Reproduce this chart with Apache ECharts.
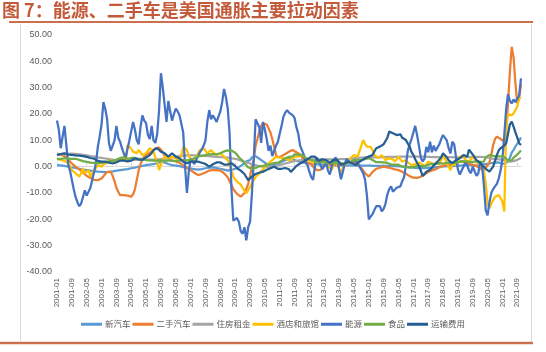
<!DOCTYPE html>
<html>
<head>
<meta charset="utf-8">
<script src="https://cdn.jsdelivr.net/npm/echarts@6/dist/echarts.min.js"></script>
<style>
  html, body { margin: 0; padding: 0; background: #fff; }
  #chart { width: 546px; height: 352px; }
</style>
</head>
<body>
<div id="chart"></div>
<script>
// monthly labels 2001-01 .. 2021-11
const months = [];
for (let y = 2001; y <= 2021; y++) {
  for (let m = 1; m <= 12; m++) {
    if (y === 2021 && m > 11) break;
    months.push(y + '-' + String(m).padStart(2, '0'));
  }
}

const yTicks = [-40, -30, -20, -10, 0, 10, 20, 30, 40, 50];

const seriesNames = ['新汽车', '二手汽车', '住房租金', '酒店和旅馆', '能源', '食品', '运输费用'];

// 同比 %, one row per year
const newCars = [
  0.6, 0.5, 0.5, 0.4, 0.3, 0.2, 0.0, -0.2, -0.3, -0.4, -0.5, -0.6,
  -0.8, -1.0, -1.1, -1.2, -1.3, -1.4, -1.5, -1.6, -1.7, -1.8, -1.9, -1.9,
  -2.0, -2.0, -2.1, -2.0, -2.0, -1.9, -1.8, -1.7, -1.5, -1.4, -1.3, -1.2,
  -1.1, -1.0, -0.9, -0.8, -0.6, -0.5, -0.4, -0.2, 0.0, 0.2, 0.3, 0.5,
  0.6, 0.7, 0.8, 0.9, 1.0, 1.1, 1.3, 1.5, 1.8, 1.9, 1.6, 1.3,
  1.0, 0.8, 0.6, 0.5, 0.4, 0.3, 0.2, 0.0, -0.2, -0.3, -0.5, -0.6,
  -0.7, -0.8, -0.9, -1.0, -1.1, -1.0, -0.9, -0.8, -0.6, -0.5, -0.4, -0.3,
  -0.3, -0.4, -0.5, -0.6, -0.8, -1.0, -1.1, -1.3, -1.5, -1.4, -1.2, -1.0,
  -0.8, -0.5, -0.2, 0.2, 0.8, 1.5, 2.0, 2.3, 2.5, 3.5, 4.0, 4.0,
  3.5, 3.0, 2.5, 2.0, 1.5, 1.0, 0.8, 0.6, 0.6, 0.8, 1.0, 1.2,
  1.5, 1.8, 2.2, 2.5, 2.8, 3.0, 3.0, 2.8, 2.5, 2.2, 2.0, 1.8,
  1.6, 1.5, 1.4, 1.3, 1.2, 1.1, 1.0, 1.0, 1.0, 0.9, 0.8, 0.8,
  0.8, 0.7, 0.7, 0.6, 0.6, 0.6, 0.6, 0.5, 0.5, 0.5, 0.5, 0.5,
  0.5, 0.5, 0.5, 0.5, 0.5, 0.4, 0.4, 0.4, 0.4, 0.4, 0.4, 0.4,
  0.4, 0.4, 0.4, 0.3, 0.3, 0.3, 0.3, 0.3, 0.3, 0.3, 0.3, 0.3,
  0.3, 0.2, 0.2, 0.2, 0.1, 0.1, 0.1, 0.0, 0.0, -0.1, -0.2, -0.3,
  -0.4, -0.5, -0.5, -0.6, -0.6, -0.6, -0.6, -0.5, -0.5, -0.5, -0.4, -0.4,
  -0.3, -0.2, -0.1, 0.0, 0.0, 0.1, 0.1, 0.2, 0.2, 0.2, 0.3, 0.3,
  0.4, 0.4, 0.5, 0.5, 0.6, 0.6, 0.6, 0.6, 0.5, 0.5, 0.5, 0.6,
  0.7, 0.8, 0.9, 1.0, 1.1, 1.2, 1.3, 1.4, 1.5, 1.6, 1.5, 1.4,
  1.2, 1.0, 0.8, 2.0, 3.3, 5.3, 6.4, 7.6, 8.7, 9.8, 11.1
];

const usedCars = [
  5.0, 4.8, 4.6, 4.4, 4.0, 3.5, 2.8, 2.0, 1.2, 0.5, 0.0, -0.5,
  -1.0, -1.5, -2.2, -2.8, -3.5, -4.0, -4.3, -4.6, -5.0, -5.2, -5.1, -5.0,
  -4.5, -3.8, -2.8, -2.0, -1.8, -2.0, -3.5, -5.5, -8.0, -9.5, -10.8, -10.8,
  -10.8, -10.8, -11.0, -11.2, -11.4, -10.5, -8.5, -5.0, -1.5, 1.0, 2.5, 3.8,
  4.2, 4.8, 5.2, 5.8, 6.5, 7.0, 7.5, 7.2, 6.5, 5.5, 4.2, 3.5,
  3.0, 2.5, 2.3, 2.1, 2.0, 1.8, 1.5, 1.0, 0.5, 0.0, -0.5, -1.0,
  -1.3, -1.8, -2.3, -2.8, -3.2, -3.0, -2.8, -2.5, -2.2, -1.8, -1.5, -1.3,
  -1.3, -1.3, -1.3, -1.3, -1.5, -2.0, -2.5, -3.2, -4.0, -5.5, -7.0, -8.5,
  -9.5, -10.3, -11.0, -11.4, -10.8, -10.0, -8.5, -6.5, -3.5, 0.0, 2.5, 8.0,
  10.5, 13.5, 15.5, 16.5, 16.5, 16.0, 14.5, 13.0, 10.5, 7.5, 4.5, 3.5,
  3.8, 4.0, 4.4, 4.8, 5.2, 5.7, 6.0, 6.3, 6.0, 5.5, 5.0, 4.6,
  3.5, 2.5, 2.0, 1.6, 1.3, 0.8, 0.0, -0.7, -1.3, -1.3, -1.2, -0.5,
  0.4, 1.0, 1.3, 1.2, 1.0, 0.8, 0.6, 0.6, 0.7, 0.8, 1.0, 1.3,
  1.4, 1.6, 1.8, 1.9, 1.9, 1.5, 0.8, 0.5, -0.5, -1.5, -2.5, -3.2,
  -3.8, -3.2, -2.0, -1.3, -0.8, -0.6, -0.4, -0.2, 0.0, 0.0, -0.3, -0.5,
  -0.6, -0.8, -1.0, -1.2, -1.3, -1.6, -1.9, -2.3, -2.7, -3.2, -3.6, -3.9,
  -4.2, -4.4, -4.3, -4.0, -3.8, -3.5, -3.0, -2.5, -2.0, -1.7, -1.4, -1.3,
  -1.0, -0.6, -0.2, 0.0, 0.3, 0.5, 0.6, 0.8, 1.0, 1.2, 1.3, 1.5,
  1.7, 1.9, 2.0, 1.8, 1.5, 1.3, 1.2, 1.0, 0.7, 0.5, 0.2, 0.0,
  -0.5, -1.3, -1.0, -0.3, 0.3, 1.5, 4.5, 8.2, 10.5, 11.4, 11.0, 10.5,
  10.0, 9.5, 14.0, 24.0, 36.0, 45.5, 41.5, 31.5, 24.0, 26.0, 31.5
];

const rent = [
  4.8, 4.8, 4.8, 4.9, 4.9, 4.9, 4.9, 4.9, 5.0, 5.0, 4.9, 4.8,
  4.7, 4.6, 4.5, 4.4, 4.3, 4.2, 4.0, 3.9, 3.8, 3.6, 3.5, 3.4,
  3.3, 3.2, 3.1, 3.0, 2.9, 2.8, 2.7, 2.6, 2.6, 2.5, 2.5, 2.5,
  2.5, 2.4, 2.4, 2.4, 2.5, 2.5, 2.6, 2.6, 2.7, 2.7, 2.7, 2.7,
  2.7, 2.7, 2.7, 2.7, 2.7, 2.7, 2.8, 2.8, 2.9, 3.0, 3.1, 3.2,
  3.3, 3.4, 3.5, 3.6, 3.8, 3.9, 4.0, 4.1, 4.2, 4.3, 4.3, 4.4,
  4.4, 4.4, 4.3, 4.3, 4.3, 4.2, 4.2, 4.1, 4.1, 4.0, 4.0, 3.9,
  3.8, 3.8, 3.7, 3.6, 3.6, 3.5, 3.5, 3.5, 3.4, 3.3, 3.2, 3.1,
  3.0, 2.8, 2.6, 2.4, 2.1, 1.9, 1.6, 1.4, 1.2, 1.0, 0.8, 0.6,
  0.4, 0.2, 0.1, 0.0, -0.1, -0.2, -0.2, -0.1, 0.0, 0.2, 0.3, 0.5,
  0.7, 0.8, 1.0, 1.2, 1.4, 1.6, 1.8, 2.0, 2.1, 2.3, 2.4, 2.5,
  2.5, 2.6, 2.6, 2.7, 2.7, 2.8, 2.8, 2.8, 2.8, 2.8, 2.8, 2.8,
  2.8, 2.8, 2.8, 2.8, 2.8, 2.8, 2.8, 2.9, 2.9, 2.9, 2.9, 2.9,
  2.9, 3.0, 3.0, 3.1, 3.2, 3.2, 3.3, 3.3, 3.4, 3.4, 3.5, 3.5,
  3.5, 3.5, 3.5, 3.5, 3.5, 3.5, 3.6, 3.6, 3.6, 3.7, 3.7, 3.7,
  3.7, 3.7, 3.7, 3.7, 3.8, 3.8, 3.8, 3.8, 3.8, 3.8, 3.8, 3.9,
  3.9, 3.9, 3.8, 3.8, 3.8, 3.8, 3.8, 3.7, 3.7, 3.7, 3.6, 3.6,
  3.6, 3.6, 3.6, 3.6, 3.5, 3.5, 3.6, 3.6, 3.6, 3.6, 3.5, 3.5,
  3.5, 3.5, 3.5, 3.5, 3.6, 3.6, 3.6, 3.7, 3.7, 3.7, 3.7, 3.7,
  3.7, 3.6, 3.6, 3.5, 3.5, 3.3, 3.1, 3.0, 3.0, 2.9, 2.8, 2.8,
  2.6, 2.4, 2.1, 1.9, 1.9, 2.0, 2.1, 2.3, 2.6, 3.0, 3.3
];

const lodging = [
  3.2, 3.0, 2.6, 2.5, 2.2, 1.8, 1.5, 0.2, -1.3, -2.0, -2.5, -3.2,
  -3.8, -2.5, -0.6, -2.5, -3.2, -1.3, -3.8, -3.5, -1.3, -0.5, 0.6, 0.3,
  0.0, 0.8, 1.3, 1.6, 1.9, 2.4, 2.5, 1.3, 1.8, 2.5, 2.9, 3.2,
  2.5, 1.9, 8.2, 7.6, 6.8, 5.7, 5.3, 5.1, 6.3, 5.5, 4.4, 4.8,
  5.1, 5.5, 7.0, 6.5, 5.7, 3.5, 1.9, -1.3, 0.8, 2.5, 3.8, 3.5,
  3.2, 3.5, 3.8, 3.5, 3.2, 2.8, 2.5, 4.4, 7.5, 7.0, 6.3, 4.0,
  3.0, 1.9, 2.8, 3.8, 5.0, 6.3, 6.8, 7.0, 6.0, 5.1, 5.8, 6.3,
  5.5, 5.1, 4.4, 4.8, 5.1, 4.4, 3.8, 3.2, 2.5, 0.5, -1.3, -3.8,
  -4.8, -5.7, -6.1, -6.8, -8.0, -9.2, -10.1, -9.0, -7.8, -6.3, -5.1, -3.9,
  -3.5, -2.5, -1.9, -1.0, -0.6, 0.5, 1.3, 1.9, 2.5, 3.2, 3.8, 3.5,
  3.4, 3.3, 3.2, 3.0, 2.8, 2.6, 2.5, 3.2, 3.8, 4.4, 3.8, 4.0,
  4.4, 4.0, 3.2, 2.5, 2.5, 1.9, 1.3, 1.6, 1.9, 2.3, 2.5, 2.0,
  2.5, 1.0, 0.6, -0.5, -1.3, 1.0, 1.9, 0.6, -0.8, -2.5, -0.5, 0.3,
  1.5, 1.9, 3.2, 3.5, 4.4, 4.0, 3.8, 6.0, 8.0, 10.1, 8.5, 7.6,
  8.2, 7.5, 6.3, 4.5, 3.8, 3.2, 3.5, 4.4, 3.5, 2.5, 2.8, 3.2,
  3.8, 2.8, 1.9, 2.8, 3.8, 2.8, 1.9, 2.2, 2.5, 1.6, 1.3, 0.6,
  0.6, 0.9, 1.3, 1.6, 1.9, 0.8, 0.0, 0.9, 1.9, 1.6, 1.3, 0.5,
  1.2, 1.9, 0.8, 2.5, 4.4, 3.0, 1.5, 0.0, -1.3, 1.0, 1.3, 0.6,
  2.0, 3.8, 4.4, 4.0, 2.5, 2.2, 1.9, 2.8, 3.8, 3.0, 1.9, 1.0,
  0.6, 0.0, -1.3, -6.3, -14.0, -15.8, -14.0, -12.7, -11.4, -11.0, -10.8, -12.0,
  -13.3, -17.0, 15.0, 20.0, 20.5, 19.5, 20.3, 21.0, 22.8, 26.0, 26.0
];

const energy = [
  17.5, 14.0, 7.0, 6.5, 15.5, 8.5, 1.0, -1.5, -1.0, -8.5, -11.5, -13.5,
  -15.0, -14.0, -11.5, -9.0, -11.0, -11.5, -8.0, -5.0, -2.0, 1.5, 7.5, 11.5,
  16.0, 24.5, 22.0, 18.0, 9.0, 6.0, 6.5, 10.0, 15.5, 11.0, 9.5, 7.0,
  5.0, 3.5, 4.0, 10.0, 13.5, 17.0, 14.0, 10.0, 8.5, 15.0, 19.5, 17.5,
  16.5, 12.0, 10.5, 15.5, 10.0, 9.0, 12.5, 21.5, 35.5, 30.0, 23.5, 17.0,
  25.0, 21.0, 17.5, 20.0, 22.0, 21.0, 19.5, 20.0, 13.0, 0.0, -10.0, -2.0,
  3.0, 2.0, 1.0, 2.5, 4.0, 5.5, 6.5, 8.0, 10.0, 17.0, 21.5, 18.0,
  19.5, 19.0, 17.0, 17.5, 21.0, 24.5, 29.5, 26.5, 22.0, 12.5, -8.5, -20.5,
  -21.0, -19.5, -21.0, -24.5, -25.5, -23.0, -28.0, -23.0, -21.0, -10.5, 2.5, 18.0,
  18.5, 15.0, 9.0, 17.0, 14.0, 10.5, 6.0, 8.0, 4.0, 6.0, 8.0, 9.5,
  12.5, 15.5, 19.0, 20.5, 21.5, 20.5, 20.0, 19.5, 18.5, 15.0, 12.5, 8.0,
  7.5, 4.5, 1.5, 0.5, -2.0, -4.0, -5.0, 0.5, 3.5, 3.0, 0.5, -1.0,
  -1.0, 1.5, -1.5, -3.0, 0.0, 2.0, 3.5, 2.5, -1.0, -4.8, -2.0, 1.0,
  3.0, 2.5, 1.5, 2.0, 2.5, 2.5, 1.5, 0.0, -0.5, -2.5, -5.0, -11.0,
  -20.0, -19.0, -18.0, -16.5, -15.0, -14.5, -15.0, -17.0, -16.0, -14.0, -10.5, -8.5,
  -7.5, -9.5, -10.0, -8.0, -8.5, -7.5, -5.5, -4.0, 0.5, 6.0, 8.5, 10.5,
  13.0, 15.5, 12.0, 8.0, 3.5, 2.0, 3.0, 7.5, 5.5, 9.5, 5.5, 8.0,
  6.0, 5.5, 8.5, 10.5, 12.0, 11.5, 10.0, 7.0, 5.0, 9.5, 8.5, 3.5,
  -1.0, -3.0, -3.5, 0.0, 1.5, 0.5, -1.5, -2.5, 0.0, 0.5, -3.5, -2.5,
  2.0, 0.5, -7.0, -16.5, -18.5, -13.5, -10.0, -8.5, -7.5, -6.5, -4.5, -1.5,
  3.0, 12.0, 22.0, 27.5, 25.0, 24.0, 25.5, 24.5, 25.0, 27.0, 33.5
];

const food = [
  2.8, 2.9, 3.0, 3.1, 3.2, 3.1, 3.1, 3.2, 3.0, 3.1, 3.0, 2.8,
  2.6, 2.4, 2.1, 1.9, 1.8, 1.6, 1.5, 1.5, 1.4, 1.4, 1.3, 1.5,
  1.4, 1.5, 1.7, 1.8, 2.0, 2.1, 2.2, 2.4, 2.6, 3.0, 3.3, 3.5,
  3.6, 3.2, 3.0, 3.2, 3.3, 3.5, 3.3, 3.2, 3.0, 3.0, 3.0, 2.7,
  2.5, 2.6, 2.4, 2.3, 2.3, 2.4, 2.3, 2.4, 2.3, 2.3, 2.3, 2.3,
  2.4, 2.1, 2.2, 2.2, 2.2, 2.2, 2.3, 2.4, 2.5, 2.5, 2.4, 2.1,
  2.6, 3.0, 3.2, 3.6, 3.9, 4.0, 4.1, 4.0, 4.4, 4.4, 4.7, 4.9,
  4.8, 4.6, 4.7, 5.0, 5.1, 5.3, 5.8, 6.1, 6.2, 6.3, 6.1, 5.9,
  5.3, 4.5, 3.6, 2.9, 2.2, 1.5, 0.5, -0.3, -0.6, -0.7, -0.7, -0.5,
  -0.1, 0.2, 0.2, 0.3, 0.7, 0.7, 0.9, 1.0, 1.4, 1.4, 1.4, 1.5,
  1.8, 2.3, 2.9, 3.2, 3.5, 3.7, 3.6, 3.9, 4.7, 4.7, 4.6, 4.7,
  4.4, 3.9, 3.3, 3.1, 2.8, 2.7, 2.4, 2.0, 1.6, 1.7, 1.8, 1.8,
  1.6, 1.6, 1.5, 1.5, 1.4, 1.4, 1.4, 1.4, 1.5, 1.3, 1.2, 1.1,
  1.3, 1.4, 1.7, 2.3, 2.5, 2.5, 2.5, 2.7, 2.6, 2.7, 2.9, 3.4,
  3.2, 3.0, 2.5, 1.9, 1.7, 1.8, 1.7, 1.6, 1.6, 1.4, 1.4, 0.8,
  0.8, 0.8, 0.8, 0.9, 0.7, 0.3, 0.0, -0.1, -0.2, -0.3, -0.4, -0.2,
  -0.2, -0.1, 0.3, 0.5, 0.2, 0.4, 0.2, 0.3, 0.7, 1.0, 1.1, 1.3,
  1.1, 1.3, 1.3, 1.4, 1.2, 1.4, 1.4, 1.4, 1.4, 1.2, 1.4, 1.6,
  1.6, 2.0, 2.1, 1.8, 2.0, 1.9, 1.8, 1.7, 1.8, 2.1, 2.0, 1.8,
  1.8, 1.8, 1.9, 3.5, 4.0, 4.5, 4.1, 4.1, 3.9, 3.9, 3.7, 3.9,
  3.8, 3.6, 3.5, 2.4, 2.2, 2.4, 3.4, 3.7, 4.6, 5.3, 6.1
];

const transport = [
  4.4, 4.6, 4.8, 5.0, 5.1, 4.9, 4.6, 4.4, 4.5, 4.4, 4.3, 4.4,
  4.2, 4.1, 4.0, 3.8, 3.7, 3.5, 3.3, 3.2, 3.0, 2.6, 2.2, 1.9,
  1.9, 2.0, 1.9, 1.7, 1.5, 1.3, 1.2, 1.4, 1.7, 2.0, 2.3, 2.5,
  2.4, 2.2, 2.0, 1.9, 2.3, 2.8, 3.2, 3.0, 2.7, 2.5, 2.6, 3.0,
  3.5, 4.0, 4.4, 5.2, 6.3, 6.8, 7.0, 6.5, 5.7, 5.4, 5.1, 4.5,
  3.8, 4.3, 5.1, 4.6, 3.8, 3.5, 3.2, 2.6, 1.9, 1.5, 1.3, 1.6,
  1.9, 2.0, 1.9, 1.8, 1.9, 1.7, 1.5, 1.3, 1.0, 0.5, 0.0, 0.4,
  0.9, 1.3, 1.6, 1.9, 1.6, 1.2, 0.8, 0.6, 0.8, 1.1, 1.3, 0.8,
  0.3, -0.6, -1.0, -1.5, -1.9, -2.8, -4.0, -5.1, -4.5, -3.8, -3.3, -2.8,
  -2.5, -2.3, -2.1, -1.9, -1.5, -1.2, -0.8, -0.6, -0.3, 0.0, -0.3, -0.8,
  -0.5, -0.8, -1.0, -0.5, 0.0, -1.0, -2.0, -1.5, -0.5, 0.3, 0.8, 1.2,
  1.5, 2.0, 2.5, 2.8, 3.2, 3.8, 4.4, 3.8, 3.2, 2.2, 1.9, 2.8,
  3.2, 2.5, 1.9, 1.4, 1.5, 2.6, 3.2, 2.5, 1.9, 0.8, 0.6, 1.2,
  1.5, 1.9, 1.6, 1.3, 0.8, 0.6, 1.4, 1.9, 2.3, 2.7, 3.2, 3.5,
  3.8, 4.1, 4.4, 5.8, 7.0, 7.3, 7.6, 8.2, 8.5, 8.9, 11.0, 13.3,
  13.0, 12.7, 12.3, 12.0, 12.5, 12.3, 11.0, 10.6, 10.1, 8.8, 7.6, 5.5,
  4.5, 2.8, 1.5, 0.3, -1.5, -3.5, -3.0, -1.9, -1.5, -1.2, -0.3, 0.5,
  1.1, 1.8, 2.5, 3.6, 5.1, 4.5, 3.6, 2.4, 1.9, 1.3, 1.8, 2.5,
  2.8, 3.2, 3.8, 4.4, 4.0, 3.8, 6.5, 7.0, 4.6, 3.5, 2.5, 2.1,
  1.5, 0.6, 0.0, -0.8, -1.3, -1.9, -1.5, 0.0, 2.2, 4.4, 6.2, 7.0,
  7.4, 8.0, 8.9, 12.5, 16.0, 17.1, 15.2, 13.0, 11.0, 8.9, 8.2
];

const seriesData = [newCars, usedCars, rent, lodging, energy, food, transport];
const colors = ['#5B9BD5', '#ED7D31', '#A5A5A5', '#FFC000', '#4472C4', '#70AD47', '#255E91'];

const labelFont = 'Liberation Sans, Arial, sans-serif';
const cjkFont = 'Noto Sans CJK SC, sans-serif';

const chart = echarts.init(document.getElementById('chart'), null, {renderer: 'canvas'});

const option = {
  animation: false,
  backgroundColor: '#ffffff',
  color: colors,
  title: {
    text: '图 7：能源、二手车是美国通胀主要拉动因素',
    left: 2,
    top: 1,
    padding: 0,
    textStyle: {
      fontFamily: cjkFont,
      fontSize: 18,
      fontWeight: 'bold',
      color: '#c35a3a'
    }
  },
  graphic: [
    {type: 'line', shape: {x1: 9, y1: 22, x2: 533, y2: 22}, style: {stroke: '#cc6f4f', lineWidth: 2}},
    {type: 'line', shape: {x1: 20.5, y1: 24, x2: 20.5, y2: 341}, style: {stroke: '#d9d9d9', lineWidth: 1}},
    {type: 'line', shape: {x1: 531.5, y1: 24, x2: 531.5, y2: 341}, style: {stroke: '#d9d9d9', lineWidth: 1}},
    {type: 'line', shape: {x1: 0, y1: 343, x2: 533, y2: 343}, style: {stroke: '#cc6f4f', lineWidth: 2.5}}
  ],
  legend: {
    data: seriesNames,
    left: 'center',
    top: 315,
    icon: 'rect',
    itemWidth: 21,
    itemHeight: 3,
    itemGap: 2,
    textStyle: {fontFamily: cjkFont, fontSize: 8.5, color: '#595959', padding: [0, 0, 0, -2]}
  },
  grid: {left: 57, right: 25, top: 35, bottom: 80, containLabel: false},
  xAxis: [
    {
      type: 'category',
      data: months,
      boundaryGap: false,
      position: 'bottom',
      axisLine: {show: false, onZero: false},
      axisTick: {show: false},
      axisLabel: {
        interval: 7,
        rotate: 90,
        margin: 6,
        fontFamily: labelFont,
        fontSize: 8,
        color: '#595959'
      },
      splitLine: {show: false}
    },
    {
      type: 'category',
      data: months,
      boundaryGap: false,
      position: 'top',
      axisLine: {show: true, onZero: true, lineStyle: {color: '#d9d9d9', width: 1}},
      axisTick: {show: true, interval: 7, inside: false, length: 4, lineStyle: {color: '#d9d9d9'}},
      axisLabel: {show: false},
      splitLine: {show: false}
    }
  ],
  yAxis: {
    type: 'value',
    min: yTicks[0],
    max: yTicks[yTicks.length - 1],
    interval: 10,
    axisLine: {show: false},
    axisTick: {show: false},
    splitLine: {show: false},
    axisLabel: {
      margin: 5,
      fontFamily: labelFont,
      fontSize: 9,
      color: '#595959',
      formatter: v => v.toFixed(2)
    }
  },
  series: seriesNames.map((name, i) => ({
    name: name,
    type: 'line',
    xAxisIndex: 0,
    data: seriesData[i],
    showSymbol: false,
    symbol: 'none',
    smooth: false,
    lineStyle: {width: 2.25, color: colors[i]},
    itemStyle: {color: colors[i]}
  }))
};

chart.setOption(option);
</script>
</body>
</html>
